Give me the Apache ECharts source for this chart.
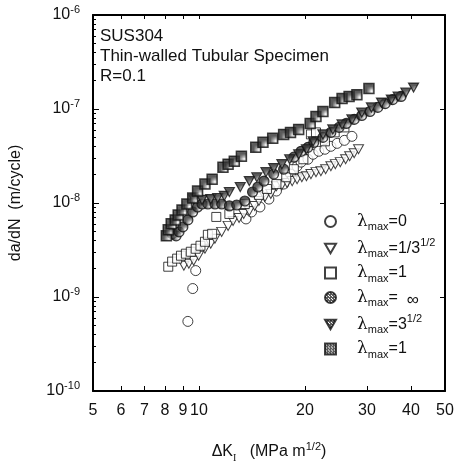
<!DOCTYPE html>
<html>
<head>
<meta charset="utf-8">
<script src="https://cdn.jsdelivr.net/npm/echarts@6/dist/echarts.min.js"></script>
<style>
html, body { margin: 0; padding: 0; background: #fff; }
#chart { width: 459px; height: 468px; }
</style>
</head>
<body>
<div id="chart"></div>
<script>
// ΔK (MPa m^1/2) and da/dN (m/cycle)
const lam0K = [9.30, 9.60, 9.79, 13.6, 14.1, 14.9, 15.8, 16.6, 17.4, 18.2, 19.0, 19.5, 20.4, 21.1, 21.9, 22.8, 23.7, 24.7, 25.9, 27.2];
const lam0R = [5.5e-10, 1.23e-9, 1.91e-9, 6.77e-9, 8.03e-9, 9.07e-9, 1.10e-8, 1.34e-8, 1.59e-8, 2.03e-8, 2.46e-8, 2.72e-8, 2.92e-8, 3.30e-8, 3.55e-8, 3.73e-8, 4.01e-8, 4.31e-8, 4.64e-8, 5.12e-8];

const lamInvK = [9.06, 9.36, 9.66, 9.98, 10.4, 10.8, 11.1, 11.6, 12.1, 12.5, 13.0, 13.4, 13.9, 14.4, 14.8, 15.4, 16.0, 16.6, 17.2, 17.8, 18.4, 19.0, 19.6, 20.2, 20.8, 21.5, 22.2, 22.9, 23.7, 24.4, 25.2, 26.1, 26.8, 27.6, 28.4];
const lamInvR = [2.15e-9, 2.26e-9, 2.43e-9, 2.75e-9, 3.26e-9, 3.68e-9, 4.16e-9, 4.93e-9, 5.71e-9, 6.45e-9, 6.94e-9, 7.65e-9, 8.23e-9, 9.30e-9, 1.05e-8, 1.16e-8, 1.25e-8, 1.51e-8, 1.55e-8, 1.63e-8, 1.71e-8, 1.79e-8, 1.88e-8, 1.93e-8, 2.03e-8, 2.13e-8, 2.18e-8, 2.29e-8, 2.46e-8, 2.59e-8, 2.72e-8, 2.92e-8, 3.14e-8, 3.38e-8, 3.73e-8];

const lam1K = [8.18, 8.39, 8.67, 8.89, 9.18, 9.48, 9.79, 10.1, 10.4, 10.6, 10.9, 11.2, 12.2, 13.5, 14.8, 15.6, 16.6, 17.7, 18.6, 19.8, 20.8, 21.5, 22.8, 24.3, 25.9];
const lam1R = [2.10e-9, 2.38e-9, 2.56e-9, 2.75e-9, 2.89e-9, 3.03e-9, 3.26e-9, 3.51e-9, 3.87e-9, 4.59e-9, 4.70e-9, 7.11e-9, 7.65e-9, 9.76e-9, 1.22e-8, 1.41e-8, 1.59e-8, 1.88e-8, 2.29e-8, 2.92e-8, 5.37e-8, 5.64e-8, 4.53e-8, 5.64e-8, 6.37e-8];

const lamInfK = [8.39, 8.61, 8.78, 9.00, 9.30, 9.60, 9.91, 10.2, 10.6, 11.1, 11.6, 12.2, 12.8, 13.5, 14.2, 14.7, 15.3, 16.3, 17.4, 18.6, 19.5, 20.4, 21.2, 22.5, 23.7, 25.0, 26.2, 27.6, 29.0, 30.6, 32.2, 33.8, 35.5, 37.5];
const lamInfR = [4.70e-9, 4.47e-9, 4.93e-9, 5.57e-9, 6.61e-9, 8.03e-9, 9.07e-9, 9.76e-9, 9.76e-9, 9.76e-9, 9.76e-9, 9.30e-9, 9.52e-9, 1.05e-8, 1.31e-8, 1.48e-8, 1.71e-8, 2.03e-8, 2.29e-8, 3.07e-8, 3.55e-8, 3.91e-8, 4.42e-8, 4.99e-8, 5.64e-8, 6.37e-8, 7.02e-8, 7.75e-8, 8.53e-8, 9.41e-8, 1.04e-7, 1.14e-7, 1.26e-7, 1.36e-7];

const lamSqK = [9.66, 10.2, 10.8, 11.3, 11.8, 12.2, 13.1, 13.9, 14.6, 15.5, 16.3, 17.2, 18.1, 19.2, 20.2, 21.1, 22.5, 24.0, 25.5, 27.2, 29.0, 30.9, 33.0, 35.2, 36.8, 38.7, 40.7];
const lamSqR = [1.10e-8, 1.08e-8, 1.10e-8, 1.13e-8, 1.19e-8, 1.31e-8, 1.48e-8, 1.71e-8, 1.88e-8, 2.13e-8, 2.35e-8, 2.59e-8, 2.92e-8, 3.30e-8, 3.73e-8, 4.53e-8, 5.37e-8, 6.07e-8, 6.86e-8, 7.75e-8, 9.18e-8, 1.04e-7, 1.17e-7, 1.26e-7, 1.36e-7, 1.50e-7, 1.69e-7];

const lam1bK = [8.08, 8.18, 8.34, 8.56, 8.73, 8.95, 9.24, 9.60, 9.91, 10.4, 10.9, 11.7, 12.1, 12.6, 13.2, 14.5, 15.2, 16.2, 17.4, 18.2, 19.2, 20.7, 21.5, 22.5, 24.3, 25.5, 26.7, 28.1, 30.4];
const lam1bR = [4.47e-9, 5.18e-9, 6.00e-9, 6.61e-9, 7.46e-9, 8.43e-9, 9.76e-9, 1.13e-8, 1.34e-8, 1.59e-8, 1.79e-8, 2.40e-8, 2.59e-8, 2.78e-8, 3.14e-8, 3.91e-8, 4.42e-8, 4.87e-8, 5.37e-8, 5.64e-8, 6.07e-8, 7.02e-8, 8.33e-8, 9.41e-8, 1.17e-7, 1.29e-7, 1.36e-7, 1.42e-7, 1.65e-7];

const xTicks = [5, 6, 7, 8, 9, 10, 20, 30, 40, 50];
const yTicks = [1e-10, 1e-9, 1e-8, 1e-7, 1e-6];
const seriesKeys = ['a', 'b', 'c', 'd', 'e', 'f'];
const legendLabels = [
  '{l|λ}{sub|max}{t|=0}',
  '{l|λ}{sub|max}{t|=1/3}{sup|1/2}',
  '{l|λ}{sub|max}{t|=1}',
  '{l|λ}{sub|max}{t|=  }{low|∞}',
  '{l|λ}{sub|max}{t|=3}{sup|1/2}',
  '{l|λ}{sub|max}{t|=1}'
];

function pairs(k, r) {
  return k.map((v, i) => [v, r[i]]);
}

// minor ticks 2..9 inside each decade
let yMinor = [];
for (let d = -10; d < -6; d++) {
  for (let m = 2; m <= 9; m++) yMinor.push(m * Math.pow(10, d));
}

// speckled fill used by the filled markers
const pat = document.createElement('canvas');
pat.width = 3; pat.height = 3;
const pc = pat.getContext('2d');
pc.fillStyle = '#333';
pc.fillRect(0, 0, 3, 3);
pc.fillStyle = '#ffffff';
pc.fillRect(1, 1, 1, 1);
pc.fillRect(0, 0, 1, 1);
const speckle = { image: pat, repeat: 'repeat' };

const downTri = 'path://M0,0L20,0L10,17.3Z';
const font = 'Liberation Sans, Arial, sans-serif';
const labelMap = {};
seriesKeys.forEach((k, i) => labelMap[k] = legendLabels[i]);

let chart = echarts.init(document.getElementById('chart'));

function logAxis(pos, opts) {
  return Object.assign({
    type: 'log',
    logBase: 10,
    position: pos,
    axisLine: { show: true, lineStyle: { color: '#000', width: 2 } },
    splitLine: { show: false },
    axisTick: { show: false },
    axisLabel: { show: false },
    minorTick: { show: false }
  }, opts);
}

let option = {
  backgroundColor: '#fff',
  animation: false,
  textStyle: { fontFamily: font, color: '#111' },
  grid: { left: 85, right: 14, top: 15, bottom: 75 },
  title: {
    text: 'SUS304\nThin-walled Tubular Specimen\nR=0.1',
    left: 95,
    top: 21,
    textStyle: { fontFamily: font, fontSize: 17, fontWeight: 'normal', color: '#111', lineHeight: 20 }
  },
  legend: {
    orient: 'vertical',
    left: 319,
    top: 208,
    itemWidth: 11,
    itemHeight: 11,
    itemGap: 5,
    data: seriesKeys,
    formatter: (name) => labelMap[name],
    textStyle: {
      fontFamily: font,
      padding: [0, 0, 0, 16],
      rich: {
        l: { fontSize: 17, lineHeight: 22, color: '#111', fontFamily: 'DejaVu Serif, serif' },
        t: { fontSize: 16, lineHeight: 22, color: '#111' },
        sub: { fontSize: 11, lineHeight: 11, verticalAlign: 'bottom', color: '#111' },
        sup: { fontSize: 11, lineHeight: 11, verticalAlign: 'top', color: '#111' },
        low: { fontSize: 17, lineHeight: 14, verticalAlign: 'bottom', color: '#111' }
      }
    }
  },
  xAxis: [
    logAxis('bottom', {
      min: 5, max: 50,
      name: '{t|ΔK}{sub|I}{t|   (MPa m}{sup|1/2}{t|)}',
      nameLocation: 'middle',
      nameGap: 50,
      nameTextStyle: {
        rich: {
          t: { fontSize: 16, lineHeight: 22, color: '#111', fontFamily: font },
          sub: { fontSize: 10, lineHeight: 11, verticalAlign: 'bottom', color: '#111', fontFamily: 'Liberation Serif, serif' },
          sup: { fontSize: 11, lineHeight: 11, verticalAlign: 'top', color: '#111', fontFamily: font }
        }
      },
      axisTick: { show: true, inside: true, length: 5, customValues: xTicks, lineStyle: { color: '#000', width: 1 } },
      axisLabel: { show: true, customValues: xTicks, fontSize: 16, color: '#111', margin: 12, fontFamily: font }
    }),
    logAxis('top', {
      min: 5, max: 50,
      axisTick: { show: true, inside: true, length: 4, customValues: xTicks, lineStyle: { color: '#000' } }
    })
  ],
  yAxis: [
    logAxis('left', {
      min: 1e-10, max: 1e-6,
      name: 'da/dN  (m/cycle)',
      nameLocation: 'middle',
      nameGap: 69,
      nameRotate: 90,
      nameTextStyle: { fontSize: 16, color: '#111', fontFamily: font },
      axisTick: { show: true, inside: true, length: 6, customValues: yTicks, lineStyle: { color: '#000' } },
      axisLabel: {
        show: true,
        customValues: yTicks,
        margin: 13,
        formatter: (v) => '{b|10}{s|' + Math.round(Math.log10(v)) + '}',
        rich: {
          b: { fontSize: 16, lineHeight: 22, color: '#111', fontFamily: font },
          s: { fontSize: 11, lineHeight: 12, verticalAlign: 'top', color: '#111', fontFamily: font }
        }
      }
    }),
    logAxis('left', {
      min: 1e-10, max: 1e-6,
      axisLine: { show: false },
      axisTick: { show: true, inside: true, length: 3, customValues: yMinor, lineStyle: { color: '#000' } }
    }),
    logAxis('right', {
      min: 1e-10, max: 1e-6,
      axisTick: { show: true, inside: true, length: 5, customValues: yTicks, lineStyle: { color: '#000' } }
    })
  ],
  series: [
    {
      name: 'a', type: 'scatter', symbol: 'circle', symbolSize: 10,
      itemStyle: { color: '#fff', borderColor: '#111', borderWidth: 1 },
      data: pairs(lam0K, lam0R)
    },
    {
      name: 'b', type: 'scatter', symbol: downTri, symbolSize: [10, 9],
      itemStyle: { color: '#fff', borderColor: '#111', borderWidth: 1 },
      data: pairs(lamInvK, lamInvR)
    },
    {
      name: 'c', type: 'scatter', symbol: 'rect', symbolSize: 9,
      itemStyle: { color: '#fff', borderColor: '#111', borderWidth: 1 },
      data: pairs(lam1K, lam1R)
    },
    {
      name: 'd', type: 'scatter', symbol: 'circle', symbolSize: 10,
      itemStyle: { color: speckle, borderColor: '#111', borderWidth: 1.2 },
      data: pairs(lamInfK, lamInfR)
    },
    {
      name: 'e', type: 'scatter', symbol: downTri, symbolSize: [10, 9],
      itemStyle: { color: speckle, borderColor: '#111', borderWidth: 1.2 },
      data: pairs(lamSqK, lamSqR)
    },
    {
      name: 'f', type: 'scatter', symbol: 'rect', symbolSize: 10,
      itemStyle: { color: speckle, borderColor: '#111', borderWidth: 1.5 },
      data: pairs(lam1bK, lam1bR)
    }
  ]
};

chart.setOption(option);
</script>
</body>
</html>
